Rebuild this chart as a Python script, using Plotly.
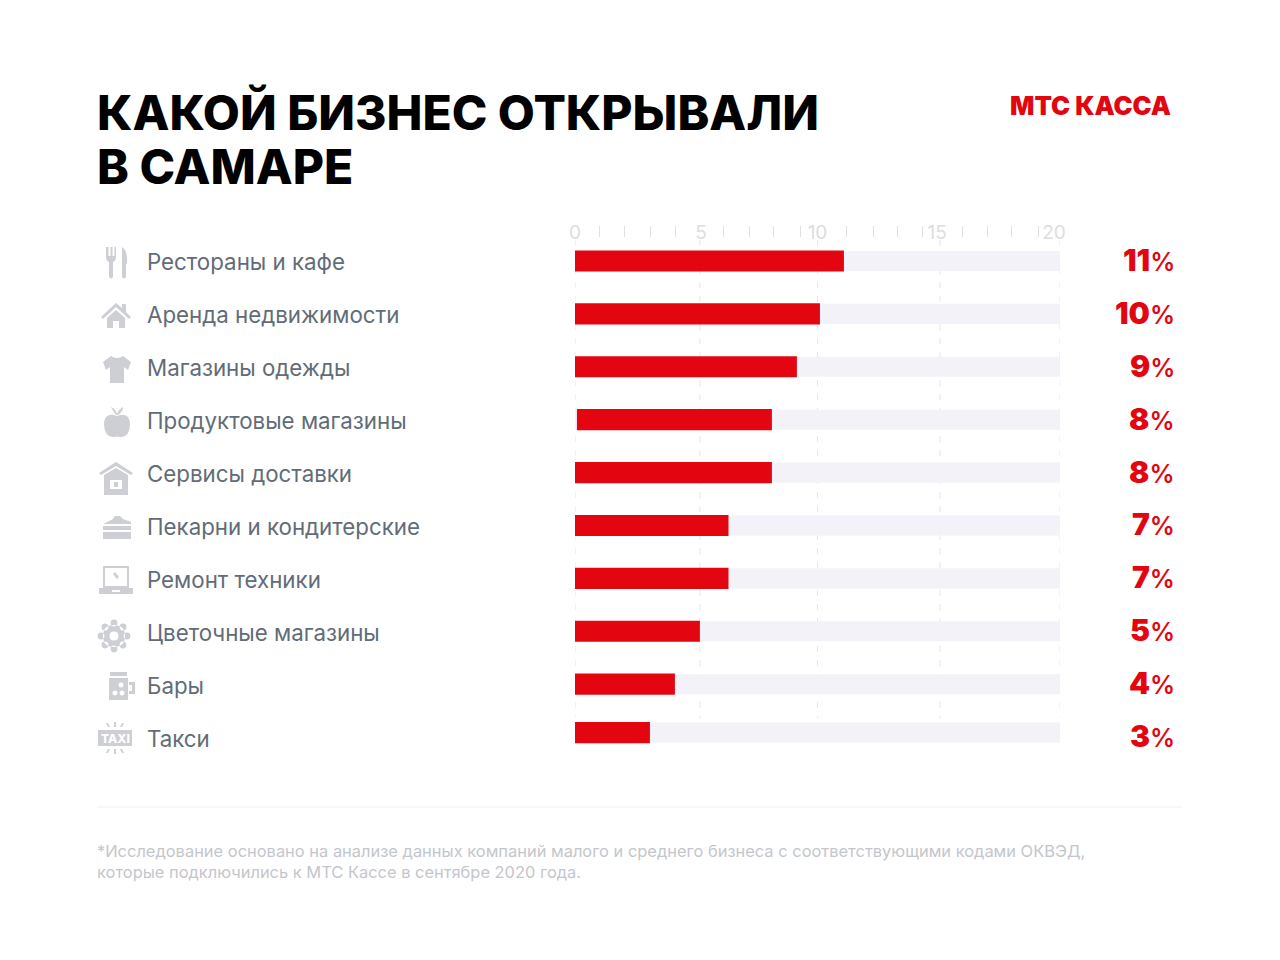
import re
import plotly.graph_objects as go

# the page puts the figure 8px in from the corner of the 1280x960 window
PAGE_W, PAGE_H = 1280, 960
W, H = PAGE_W - 8, PAGE_H - 8

# Values
categories = ["Рестораны и кафе", "Аренда недвижимости", "Магазины одежды", "Продуктовые магазины",
              "Сервисы доставки", "Пекарни и кондитерские", "Ремонт техники", "Цветочные магазины",
              "Бары", "Такси"]
bar_ends = [11.09, 10.1, 9.15, 8.12, 8.12, 6.33, 6.33, 5.15, 4.12, 3.09]
bar_starts = [0, 0, 0, 0.08, 0, 0, 0, 0, 0, 0]
track_ends = [20] * 10
value_labels = ["11", "10", "9", "8", "8", "7", "7", "5", "4", "3"]
tick_labels = ["0", "5", "10", "15", "20"]
label_ticks = [0, 5.2, 10, 14.93, 19.75]
grid_lines = [0, 5.15, 10, 15.05, 20]
small_ticks = [1.03, 2.06, 3.13, 4.16, 6.14, 7.18, 8.2, 9.28, 11.2, 12.3, 13.3, 14.35, 15.96, 17, 18, 19.1]

RED = "#e30611"
TRACK = "#f2f2f8"
ICON = "#cdcfd5"
FONT = "Inter"


def px(x):
    return (x - 8) / W


def py(y):
    return 1 - (y - 8) / H


def icon_path(path, cx, cy):
    # path is written in pixels around the icon centre, turn it into paper coords
    n = [0]

    def conv(m):
        v = float(m.group())
        n[0] += 1
        return f"{px(cx + v):.5f}" if n[0] % 2 else f"{py(cy + v):.5f}"
    return re.sub(r"-?\d+\.?\d*", conv, path)


def circle(x, y, r):
    return f"M{x-r},{y} Q{x-r},{y-r} {x},{y-r} Q{x+r},{y-r} {x+r},{y} Q{x+r},{y+r} {x},{y+r} Q{x-r},{y+r} {x-r},{y} Z"


gear = circle(0, 0, 11)
for dx, dy in [(0, -13), (9, -9), (13, 0), (9, 9), (0, 13), (-9, 9), (-13, 0), (-9, -9)]:
    gear += " " + circle(dx, dy, 3.4)

rays = "M-1,-16 L1,-16 L1,-11 L-1,-11 Z M-9,-15 L-7,-15 L-5,-11 L-7,-11 Z M7,-15 L9,-15 L7,-11 L5,-11 Z " \
       "M-1,11 L1,11 L1,16 L-1,16 Z M-7,11 L-5,11 L-7,15 L-9,15 Z M5,11 L7,11 L9,15 L7,15 Z"

icons = [
    (117, 263, ICON, ["M-11,-16 L-11,-6 Q-11,-2 -8,-1 L-8,14 Q-6,17 -4,14 L-4,-1 Q-1,-2 -1,-6 L-1,-16 L-2.5,-16 L-2.5,-7 "
                      "L-4.5,-7 L-4.5,-16 L-6.5,-16 L-6.5,-7 L-8.5,-7 L-8.5,-16 Z",
                      "M5,-16 Q11,-12 10,1 L9,1 L9,14 Q7,17 5,14 Z"]),
    (116, 316, ICON, ["M-15,1 L0,-13 L6,-8 L6,-12 L10,-12 L10,-4 L15,1 L13,3 L0,-9 L-13,3 Z",
                      "M-9,2 L0,-6 L9,2 L9,12 L3,12 L3,5 L-3,5 L-3,12 L-9,12 Z"]),
    (117, 369, ICON, ["M-6,-13 Q0,-9 6,-13 L14,-7 L11,1 L7,-2 L7,14 L-7,14 L-7,-2 L-11,1 L-14,-7 Z"]),
    (117, 422, ICON, ["M0,-6 Q13,-11 13,3 Q12,16 3,15 Q0,14 -3,15 Q-12,16 -13,3 Q-13,-11 0,-6 Z",
                      "M-1,-7 Q-4,-11 -6,-15 Q-1,-13 0,-8 Q2,-13 6,-15 Q6,-10 1,-7 Z"]),
    (116, 479, ICON, ["M-17,-6 L0,-17 L17,-6 L15,-4 L0,-13 L-15,-4 Z",
                      "M-12,-4 L0,-11 L12,-4 L12,16 L-12,16 Z"]),
    (116, 479, "#ffffff", ["M-6,1 L6,1 L6,10 L-6,10 Z"]),
    (116, 479, ICON, ["M-2,3 L2,3 L2,8 L-2,8 Z"]),
    (117, 527, ICON, ["M-14,-3 L-4,-8 L-2,-11 L3,-11 L6,-8 L14,-5 L14,-3 Z", "M-14,-1 L14,-1 L14,3 L-14,3 Z",
                      "M-14,5 L14,5 L14,12 L-14,12 Z"]),
    (116, 580, ICON, ["M-13,-14 L13,-14 L13,8 L-13,8 Z M-11,-12 L-11,6 L11,6 L11,-12 Z",
                      "M-17,8 L17,8 L17,14 L-17,14 Z"]),
    (116, 580, "#ffffff", ["M-4,10 L4,10 L4,12 L-4,12 Z"]),
    (116, 580, ICON, ["M-3,-6 L-1,-8 L3,-3 L1,-1 Z"]),
    (114, 636, ICON, [gear]),
    (114, 636, "#ffffff", [circle(0, 0, 4.5)]),
    (120, 686, ICON, ["M-11,-8 L8,-8 L8,14 L-11,14 Z",
                      "M-10,-14 L7,-14 L7,-10 L-10,-10 Z", "M9,-4 L15,-4 L15,8 L9,8 L9,5 L12,5 L12,-1 L9,-1 Z"]),
    (120, 686, "#ffffff", [circle(-5, 7, 2.5), circle(2, 7, 2.5), circle(1, -1, 2.5)]),
    (115, 738, ICON, ["M-17,-8 L17,-8 L17,8 L-17,8 Z", rays]),
]

fig = go.Figure()

fig.add_trace(go.Bar(
    y=categories, x=track_ends, orientation="h",
    marker=dict(color=TRACK, line_width=0),
    width=0.38, offset=[-0.19] * 9 + [-0.275],
    hoverinfo="skip", showlegend=False,
))
fig.add_trace(go.Bar(
    y=categories, x=[e - s for e, s in zip(bar_ends, bar_starts)], base=bar_starts, orientation="h",
    marker=dict(color=RED, line_width=0),
    width=0.4, offset=[-0.2] * 9 + [-0.285],
    hoverinfo="skip", showlegend=False,
))
# second x axis only carries the short ticks between the numbers
fig.add_trace(go.Scatter(x=[0], y=[categories[0]], xaxis="x2", mode="markers", marker=dict(opacity=0),
                         hoverinfo="skip", showlegend=False))

shapes = []
for g in grid_lines:
    shapes.append(dict(type="line", xref="x", yref="paper", x0=g, x1=g, y0=py(240), y1=py(718),
                       layer="below", line=dict(color="#e6e6ea", width=1, dash="6px,8px")))
shapes.append(dict(type="line", xref="paper", yref="paper", x0=px(97), x1=px(1182), y0=py(807), y1=py(807),
                   line=dict(color="#f0f0f2", width=1)))
for cx, cy, color, paths in icons:
    for p in paths:
        shapes.append(dict(type="path", xref="paper", yref="paper", path=icon_path(p, cx, cy),
                           fillcolor=color, line_width=0))

annotations = []


def add_text(x, y, text, size, color, weight=400, anchor="left", family=FONT):
    annotations.append(dict(xref="paper", yref="paper", x=px(x), y=py(y), text=text, showarrow=False,
                            xanchor=anchor, yanchor="middle", align=anchor,
                            font=dict(family=family, size=size, color=color, weight=weight)))


add_text(95, 112, "КАКОЙ БИЗНЕС ОТКРЫВАЛИ", 48, "#000000", 800)
add_text(95, 167, "В САМАРЕ", 48, "#000000", 800)
add_text(1173, 106, "МТС КАССА", 25.5, RED, 900, "right")

for cat, val in zip(categories, value_labels):
    annotations.append(dict(xref="paper", yref="y", x=px(145), y=cat, yshift=-1, text=cat, showarrow=False,
                            xanchor="left", font=dict(family=FONT, size=22.3, color="#626c77")))
    annotations.append(dict(xref="paper", yref="y", x=px(1177), y=cat, yshift=1,
                            text=f'{val}<span style="font-size:25px;font-weight:600">%</span>',
                            showarrow=False, xanchor="right", font=dict(family=FONT, size=30, color=RED, weight=900)))

add_text(115, 738, "TAXI", 12, "#ffffff", 800, "center")
add_text(95, 851, "*Исследование основано на анализе данных компаний малого и среднего бизнеса с соответствующими кодами ОКВЭД,",
         16.45, "#c4c6cc")
add_text(95, 872, "которые подключились к МТС Кассе в сентябре 2020 года.", 16.45, "#c4c6cc")

fig.update_layout(
    width=W, height=H,
    margin=dict(l=0, r=0, t=0, b=0, autoexpand=False),
    paper_bgcolor="#ffffff", plot_bgcolor="rgba(0,0,0,0)",
    barmode="overlay",
    showlegend=False,
    shapes=shapes,
    annotations=annotations,
    font=dict(family=FONT),
    xaxis=dict(domain=[px(575), px(1060)], range=[0, 20], side="top", showgrid=False, zeroline=False,
               tickmode="array", tickvals=label_ticks, ticktext=tick_labels, ticks="",
               tickfont=dict(family=FONT, size=19, color="#dcdde1"), fixedrange=True),
    xaxis2=dict(domain=[px(575), px(1060)], range=[0, 20], overlaying="x", side="top", anchor="free",
                position=py(237), showgrid=False, zeroline=False, showticklabels=False,
                tickmode="array", tickvals=small_ticks, ticks="outside", ticklen=11, tickwidth=1,
                tickcolor="#e0e0e4", showline=False, fixedrange=True),
    yaxis=dict(domain=[py(750), py(244)], range=[9.244, -0.321], type="category",
               categoryorder="array", categoryarray=categories,
               showgrid=False, zeroline=False, showticklabels=False, ticks="", fixedrange=True),
)

fig.write_html("out.html")
